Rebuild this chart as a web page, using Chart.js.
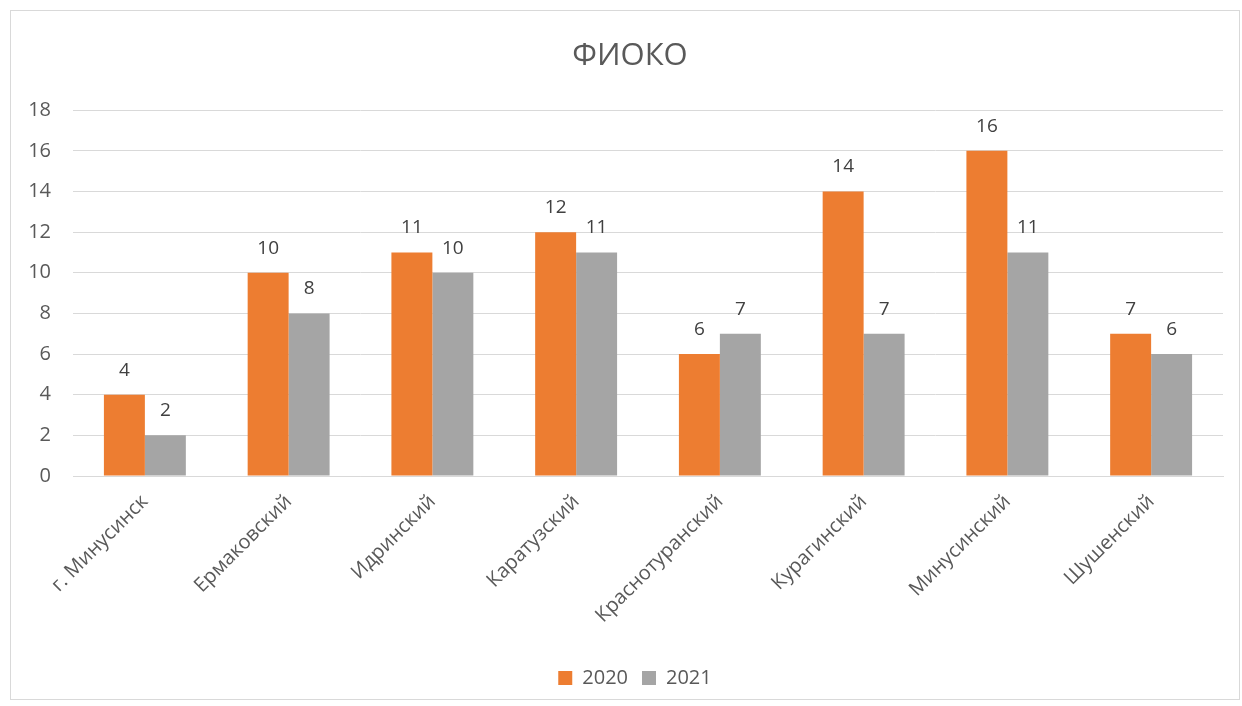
<!DOCTYPE html>
<html>
<head>
<meta charset="utf-8">
<script src="https://cdn.jsdelivr.net/npm/chart.js@4.4.1/dist/chart.umd.min.js"></script>
<style>
    html, body { margin: 0; padding: 0; background: #fff; }
    #wrap {
        position: absolute; left: 10px; top: 10px;
        width: 1228px; height: 688px;
        border: 1px solid #d9d9d9;
    }
    canvas { display: block; }
</style>
</head>
<body>
<div id="wrap"><canvas id="chart" width="1228" height="688"></canvas></div>
<script>
// Chart data
const districts = ['г. Минусинск', 'Ермаковский', 'Идринский', 'Каратузский', 'Краснотуранский', 'Курагинский', 'Минусинский', 'Шушенский'];
const values2020 = [4, 10, 11, 12, 6, 14, 16, 7];
const values2021 = [2, 8, 10, 11, 7, 7, 11, 6];
const yTicks = [0, 2, 4, 6, 8, 10, 12, 14, 16, 18];

const textColor = '#595959';
const fontFamily = '"Open Sans", "Noto Sans", sans-serif';

// Draws value labels above each bar
const valueLabels = {
    id: 'valueLabels',
    afterDatasetsDraw(chart) {
        const ctx = chart.ctx;
        ctx.save();
        ctx.fillStyle = '#404040';
        ctx.font = '19px ' + fontFamily;
        ctx.textAlign = 'center';
        ctx.textBaseline = 'alphabetic';
        chart.data.datasets.forEach((ds, i) => {
            chart.getDatasetMeta(i).data.forEach((bar, j) => {
                ctx.fillText(ds.data[j], bar.x, bar.y - 19);
            });
        });
        ctx.restore();
    }
};

// Nudges title and legend a bit to the right, like the original
const nudge = {
    id: 'nudge',
    afterLayout(chart) {
        if (chart.titleBlock) { chart.titleBlock.left += 13; chart.titleBlock.right += 13; }
        if (chart.legend) { chart.legend.left += 18; chart.legend.right += 18; }
    }
};

new Chart(document.getElementById('chart'), {
    type: 'bar',
    data: {
        labels: districts,
        datasets: [
            { label: '2020', data: values2020, backgroundColor: '#ed7d31' },
            { label: '2021', data: values2021, backgroundColor: '#a5a5a5' }
        ]
    },
    options: {
        responsive: false,
        animation: false,
        categoryPercentage: 0.57,
        barPercentage: 1,
        layout: { padding: { left: 0, right: 16, top: 0, bottom: 1 } },
        plugins: {
            title: {
                display: true,
                text: 'ФИОКО',
                color: textColor,
                font: { family: fontFamily, size: 31, weight: 'normal' },
                padding: { top: 27, bottom: 35 }
            },
            legend: {
                position: 'bottom',
                labels: {
                    color: textColor,
                    boxWidth: 14,
                    boxHeight: 14,
                    padding: 14,
                    font: { family: fontFamily, size: 20 }
                }
            },
            tooltip: { enabled: false }
        },
        scales: {
            x: {
                grid: { display: false },
                border: { color: '#d9d9d9' },
                ticks: {
                    color: textColor,
                    font: { family: fontFamily, size: 20 },
                    maxRotation: 45,
                    minRotation: 45,
                    padding: 6
                },
                afterFit(scale) { scale.height = 178; }
            },
            y: {
                min: 0,
                max: 18,
                afterBuildTicks(scale) { scale.ticks = yTicks.map(v => ({ value: v })); },
                grid: { color: '#d9d9d9', drawTicks: false },
                border: { display: false },
                ticks: {
                    color: textColor,
                    font: { family: fontFamily, size: 20 },
                    padding: 22
                },
                afterFit(scale) { scale.width = 62; }
            }
        }
    },
    plugins: [valueLabels, nudge]
});
</script>
</body>
</html>
